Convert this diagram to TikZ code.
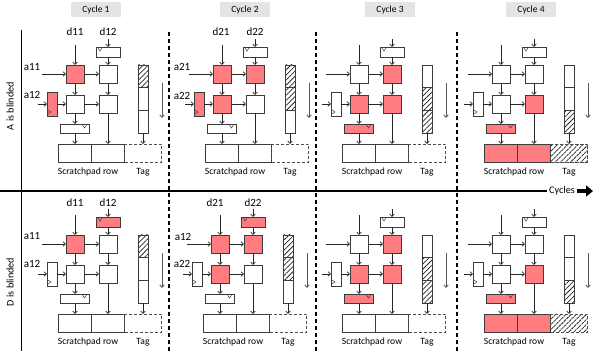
\documentclass[tikz,border=0pt]{standalone}
\usepackage{fontspec}
\setmainfont{Carlito}
\usetikzlibrary{arrows.meta,patterns.meta}
\definecolor{pered}{RGB}{255,124,128}
\definecolor{lineclr}{RGB}{60,60,60}
\definecolor{cycbg}{RGB}{228,228,228}
\tikzset{
  box/.style={draw=lineclr, line width=0.8pt, inner sep=0pt, outer sep=0pt, rectangle},
  pe/.style={box, minimum width=18pt, minimum height=18pt},
  hot/.style={fill=pered},
  hatch/.style={pattern={Lines[angle=45, distance=3.6pt, line width=0.75pt]}, pattern color=black!85},
  arr/.style={draw=black!85, line width=0.7pt, -{Straight Barb[length=2.5pt,width=4.5pt]}},
  garr/.style={draw=black!65, line width=0.9pt, -{Straight Barb[length=2.5pt,width=4.5pt]}},
  clk/.style={draw=lineclr, line width=0.5pt},
  tagbox/.style={draw=black!70, dash pattern=on 3pt off 2pt, line width=0.8pt, inner sep=0pt, outer sep=0pt, rectangle, minimum width=37pt, minimum height=18pt},
  sepline/.style={draw=black, line width=1.2pt, dash pattern=on 4pt off 3pt},
  lab/.style={font=\fontsize{11}{13}\selectfont, inner sep=0pt},
  small/.style={font=\fontsize{9.6}{11}\selectfont, inner sep=0pt},
  cyc/.style={fill=cycbg, minimum width=50pt, minimum height=15pt, inner sep=0pt, font=\fontsize{9.5}{11}\selectfont},
  q11/.style={}, q12/.style={}, q21/.style={}, q22/.style={},
  qd/.style={}, qa/.style={}, qb/.style={}, qs/.style={}, qt/.style={},
  h1/.style={}, h2/.style={}, h3/.style={},
}
\newcommand\drawpanel[4]{%
\begin{scope}[shift={(#2,#3)}, name prefix=#1-, #4]
  \node[pe, q11] (pe11) at (9,9) {};
  \node[pe, q12] (pe12) at (42,9) {};
  \node[pe, q21] (pe21) at (9,39) {};
  \node[pe, q22] (pe22) at (42,39) {};
  \node[box, minimum width=24pt, minimum height=10pt, qd] (dreg) at (42,-13) {};
  \node[box, minimum width=10pt, minimum height=24pt, qa] (areg) at (-14,39) {};
  \node[box, minimum width=29pt, minimum height=9pt, qb] (breg) at (9,63.5) {};
  \node[box, minimum width=33pt, minimum height=18pt, qs] (sp1) at (9,88) {};
  \node[box, minimum width=33pt, minimum height=18pt, qs] (sp2) at (42,88) {};
  \node[tagbox, qt] (tg) at (77,88) {};
  \node[box, minimum width=10pt, minimum height=22.67pt, h1] (tc1) at (77,11.33) {};
  \node[box, minimum width=10pt, minimum height=22.67pt, h2] (tc2) at (77,34) {};
  \node[box, minimum width=10pt, minimum height=22.67pt, h3] (tc3) at (77,56.67) {};
  \draw[clk] ([xshift=2pt,yshift=-1pt]dreg.north west) -- ++(2,3) -- ++(2,-3);
  \draw[clk] ([xshift=-7pt,yshift=-1pt]breg.north east) -- ++(2,3) -- ++(2,-3);
  \draw[clk] ([xshift=1pt,yshift=6pt]areg.south west) -- ++(3,2) -- ++(-3,2);
  \coordinate (din1) at (9,-20);
  \coordinate (din2) at (42,-26);
  \coordinate (ain1) at (-24,9);
  \coordinate (ain2) at (-28,39);
  \coordinate (g1) at (96,18);
  \coordinate (g2) at (96,53);
  \draw[arr] (din1) -- (pe11);
  \draw[arr] (din2) -- (dreg);
  \draw[arr] (dreg) -- (pe12);
  \draw[arr] (ain1) -- (pe11);
  \draw[arr] (pe11) -- (pe12);
  \draw[arr] (ain2) -- (areg);
  \draw[arr] (areg) -- (pe21);
  \draw[arr] (pe21) -- (pe22);
  \draw[arr] (pe11) -- (pe21);
  \draw[arr] (pe12) -- (pe22);
  \draw[arr] (pe21) -- (breg);
  \draw[arr] (breg) -- (sp1);
  \draw[arr] (pe22) -- (sp2);
  \draw[arr] (tc3) -- (tg);
  \draw[garr] (g1) -- (g2);
  \node[small] (splab) at (22,107) {Scratchpad row};
  \node[small] (tglab) at (77,107) {Tag};
\end{scope}}
\begin{document}
\begin{tikzpicture}[x=1pt,y=-1pt]
\useasboundingbox (0,0) rectangle (598,356);
% cycle headers
\node[cyc] (cy1) at (96,9.5) {Cycle 1};
\node[cyc] (cy2) at (245,9.5) {Cycle 2};
\node[cyc] (cy3) at (390,9.5) {Cycle 3};
\node[cyc] (cy4) at (531,9.5) {Cycle 4};
% separators
\coordinate (s1a) at (169,32); \coordinate (s1b) at (169,351);
\coordinate (s2a) at (316,32); \coordinate (s2b) at (316,351);
\coordinate (s3a) at (457,32); \coordinate (s3b) at (457,351);
\draw[sepline] (s1a) -- (s1b);
\draw[sepline] (s2a) -- (s2b);
\draw[sepline] (s3a) -- (s3b);
% top row: A is blinded
\drawpanel{T1}{66}{65}{q11/.style={hot}, qa/.style={hot}, h1/.style={hatch}}
\drawpanel{T2}{213}{65}{q11/.style={hot}, q12/.style={hot}, q21/.style={hot}, qa/.style={hot}, h1/.style={hatch}, h2/.style={hatch}}
\drawpanel{T3}{350}{65}{q12/.style={hot}, q21/.style={hot}, q22/.style={hot}, qb/.style={hot}, h2/.style={hatch}, h3/.style={hatch}}
\drawpanel{T4}{492}{65}{q22/.style={hot}, qb/.style={hot}, qs/.style={hot}, h3/.style={hatch}, qt/.style={hatch}}
% bottom row: D is blinded
\drawpanel{B1}{66}{235}{q11/.style={hot}, qd/.style={hot}, h1/.style={hatch}}
\drawpanel{B2}{211}{235}{q11/.style={hot}, q12/.style={hot}, q21/.style={hot}, qd/.style={hot}, h1/.style={hatch}, h2/.style={hatch}}
\drawpanel{B3}{350}{235}{q12/.style={hot}, q21/.style={hot}, q22/.style={hot}, qb/.style={hot}, h2/.style={hatch}, h3/.style={hatch}}
\drawpanel{B4}{492}{235}{q22/.style={hot}, qb/.style={hot}, qs/.style={hot}, h3/.style={hatch}, qt/.style={hatch}}
% labels top
\node[lab] (lt1) at (75,32) {d11};
\node[lab] (lt2) at (108,32) {d12};
\node[lab] (lt3) at (32,67) {a11};
\node[lab] (lt4) at (32,95) {a12};
\node[lab] (lt5) at (221,32) {d21};
\node[lab] (lt6) at (255,32) {d22};
\node[lab] (lt7) at (182,67) {a21};
\node[lab] (lt8) at (182,96) {a22};
% labels bottom
\node[lab] (lb1) at (75,203) {d11};
\node[lab] (lb2) at (108,203) {d12};
\node[lab] (lb3) at (32,236) {a11};
\node[lab] (lb4) at (32,264) {a12};
\node[lab] (lb5) at (215,203) {d21};
\node[lab] (lb6) at (253,203) {d22};
\node[lab] (lb7) at (183,237) {a12};
\node[lab] (lb8) at (182,264) {a22};
% axes
\coordinate (vx0) at (21.5,30); \coordinate (vx1) at (21.5,351);
\draw[line width=1.5pt] (vx0) -- (vx1);
\coordinate (hx0) at (0,191); \coordinate (hx1) at (547,191);
\draw[line width=2pt] (hx0) -- (hx1);
\node[font=\fontsize{10.2}{12}\selectfont, inner sep=0pt] (cyclab) at (562,191) {Cycles};
\coordinate (ba0) at (577,191); \coordinate (ba1) at (593,191);
\draw[line width=3.5pt, -{Triangle[length=7pt,width=11pt]}] (ba0) -- (ba1);
\node[rotate=90, font=\fontsize{10.2}{12}\selectfont, inner sep=0pt] (ablind) at (10,106) {A is blinded};
\node[rotate=90, font=\fontsize{10.2}{12}\selectfont, inner sep=0pt] (dblind) at (10,282) {D is blinded};
\end{tikzpicture}
\end{document}
